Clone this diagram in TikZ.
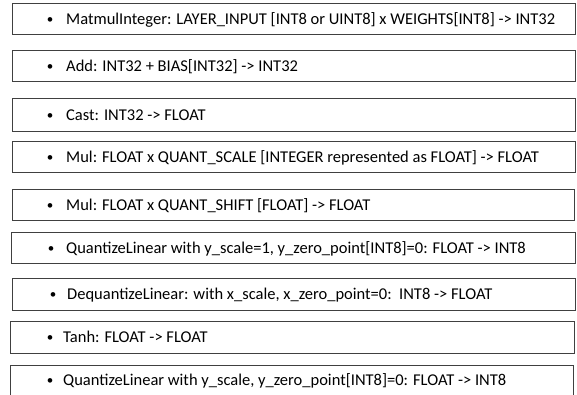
\documentclass[tikz,border=0pt]{standalone}
\usepackage{fontspec}
\setmainfont{Carlito}
\begin{document}
\begin{tikzpicture}[x=1pt,y=-1pt,
  boxline/.style={draw=black!75, line width=1pt},
  bul/.style={inner sep=0pt, anchor=base, font=\fontsize{13}{15}\selectfont},
  txt/.style={inner sep=0pt, anchor=base west, font=\fontsize{16.5}{18}\selectfont}]
\useasboundingbox (0,0) rectangle (577,394);
\clip (0,0) rectangle (577,394);
\fill[white] (0,0) rectangle (577,394);
% boxes
\draw[boxline] (12,3.5) rectangle (575,34.5);
\draw[boxline] (12,50.5) rectangle (575,81.5);
\draw[boxline] (12,98.5) rectangle (575,131.5);
\draw[boxline] (12,141.5) rectangle (575,172.5);
\draw[boxline] (12,189.5) rectangle (574,220.5);
\draw[boxline] (11,232.5) rectangle (575,263.5);
\draw[boxline] (12.5,278.5) rectangle (575,310.5);
\draw[boxline] (10.5,321.5) rectangle (574,353);
\draw[boxline] (10.5,365.5) rectangle (573.5,400);
% texts
\node[bul] (b1) at (50,23) {•};
\node[txt] (t1) at (66,24) {MatmulInteger: LAYER\_INPUT [INT8 or UINT8] x WEIGHTS[INT8] -> INT32};
\node[bul] (b2) at (50,70) {•};
\node[txt] (t2) at (66,71) {Add: INT32 + BIAS[INT32] -> INT32};
\node[bul] (b3) at (50,119.5) {•};
\node[txt] (t3) at (66,120.5) {Cast: INT32 -> FLOAT};
\node[bul] (b4) at (50,161) {•};
\node[txt] (t4) at (66,162) {Mul: FLOAT x QUANT\_SCALE [INTEGER represented as FLOAT] -> FLOAT};
\node[bul] (b5) at (50,209) {•};
\node[txt] (t5) at (66,210) {Mul: FLOAT x QUANT\_SHIFT [FLOAT] -> FLOAT};
\node[bul] (b6) at (51,252) {•};
\node[txt] (t6) at (66,253) {QuantizeLinear with y\_scale=1, y\_zero\_point[INT8]=0: FLOAT -> INT8};
\node[bul] (b7) at (53,298.5) {•};
\node[txt] (t7) at (67,299.5) {DequantizeLinear: with x\_scale, x\_zero\_point=0:\ \ INT8 -> FLOAT};
\node[bul] (b8) at (50,341) {•};
\node[txt] (t8) at (63,342) {Tanh: FLOAT -> FLOAT};
\node[bul] (b9) at (50,384) {•};
\node[txt] (t9) at (63,385) {QuantizeLinear with y\_scale, y\_zero\_point[INT8]=0: FLOAT -> INT8};
\end{tikzpicture}
\end{document}
